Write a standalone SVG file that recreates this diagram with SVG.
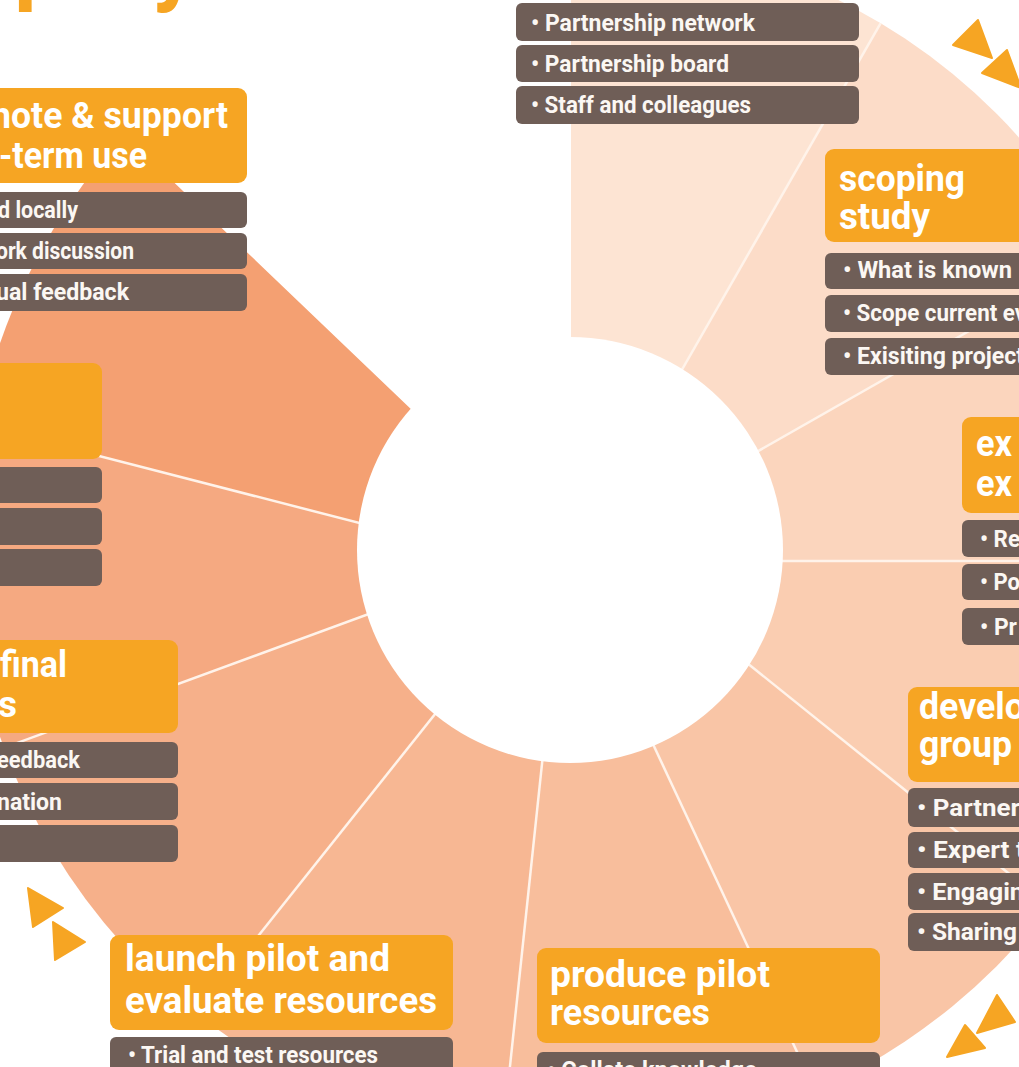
<svg xmlns="http://www.w3.org/2000/svg" width="1019" height="1067" viewBox="0 0 1019 1067">
<style>
.box{fill:#f6a523}
.item{fill:#6f5e57}
.t{font-family:Roboto,"Open Sans","Liberation Sans",sans-serif;font-weight:700;font-size:37px;fill:#ffffff}
.i{font-family:Roboto,"Liberation Sans",sans-serif;font-weight:700;font-size:23px;fill:#fbf7f3}
.big{font-family:Roboto,"Liberation Sans",sans-serif;font-weight:700;font-size:90px;fill:#f6a523}
.div{stroke:#fff3ea;stroke-width:2.5;fill:none}
.arrow{fill:#f6a523;stroke:#f6a523;stroke-width:2;stroke-linejoin:round}
</style>
<defs>
<clipPath id="outer"><circle cx="570" cy="540" r="603"/></clipPath>
</defs>
<rect x="0" y="0" width="1019" height="1067" fill="#ffffff"/>

<g id="title-fragment">
<text class="big" x="14" y="-6">p</text>
<text class="big" x="152" y="-6">y</text>
</g>

<g id="wheel" clip-path="url(#outer)">
<polygon fill="#fde4d3" points="570,550 571,450 571,-500 1113,-382 621,476"/>
<polygon fill="#fcdcc8" points="570,550 621,476 1113,-382 1375,100 637,520"/>
<polygon fill="#fbd5bd" points="570,550 637,520 1375,100 1450,561 670,561"/>
<polygon fill="#facdb1" points="570,550 670,561 1450,561 1364,1159 660,593"/>
<polygon fill="#f9c5a6" points="570,550 660,593 1364,1159 981,1445 608,648"/>
<polygon fill="#f8be9c" points="570,550 608,648 981,1445 452,1614 555,641"/>
<polygon fill="#f7b793" points="570,550 555,641 452,1614 -162,1463 518,610"/>
<polygon fill="#f6b08a" points="570,550 518,610 -162,1463 -468,921 513,561"/>
<polygon fill="#f5a981" points="570,550 513,561 -468,921 -491,304 511,562"/>
<polygon fill="#f4a072" points="570,550 511,562 -491,304 -230,-204 506,500"/>
<g id="dividers">
<line class="div" x1="621" y1="476" x2="1113" y2="-382"/>
<line class="div" x1="637" y1="520" x2="1375" y2="100"/>
<line class="div" x1="670" y1="561" x2="1450" y2="561"/>
<line class="div" x1="660" y1="593" x2="1364" y2="1159"/>
<line class="div" x1="608" y1="648" x2="981" y2="1445"/>
<line class="div" x1="555" y1="641" x2="452" y2="1614"/>
<line class="div" x1="518" y1="610" x2="-162" y2="1463"/>
<line class="div" x1="513" y1="561" x2="-468" y2="921"/>
<line class="div" x1="511" y1="562" x2="-491" y2="304"/>
</g>
</g>
<circle id="hub" cx="570" cy="550" r="213" fill="#ffffff"/>

<g id="node-partners">
<rect class="item" x="516" y="3" width="343" height="38" rx="6"/>
<rect class="item" x="516" y="45" width="343" height="37" rx="6"/>
<rect class="item" x="516" y="86" width="343" height="38" rx="6"/>
<text class="i" x="531" y="31" textLength="224" lengthAdjust="spacingAndGlyphs">• Partnership network</text>
<text class="i" x="531" y="72" textLength="198" lengthAdjust="spacingAndGlyphs">• Partnership board</text>
<text class="i" x="531" y="113" textLength="220" lengthAdjust="spacingAndGlyphs">• Staff and colleagues</text>
</g>

<g id="node-scoping">
<rect class="box" x="825" y="149" width="210" height="93" rx="9"/>
<text class="t" x="839" y="191" textLength="126" lengthAdjust="spacingAndGlyphs">scoping</text>
<text class="t" x="839" y="229" textLength="91" lengthAdjust="spacingAndGlyphs">study</text>
<rect class="item" x="825" y="253" width="210" height="36" rx="6"/>
<rect class="item" x="825" y="295" width="210" height="37" rx="6"/>
<rect class="item" x="825" y="338" width="210" height="37" rx="6"/>
<text class="i" x="843" y="278" textLength="169" lengthAdjust="spacingAndGlyphs">• What is known</text>
<text class="i" x="843" y="321" textLength="183" lengthAdjust="spacingAndGlyphs">• Scope current ev</text>
<text class="i" x="843" y="364" textLength="181" lengthAdjust="spacingAndGlyphs">• Exisiting project</text>
</g>

<g id="node-explore">
<rect class="box" x="962" y="417" width="70" height="96" rx="9"/>
<text class="t" x="976" y="456" textLength="36" lengthAdjust="spacingAndGlyphs">ex</text>
<text class="t" x="976" y="496" textLength="36" lengthAdjust="spacingAndGlyphs">ex</text>
<rect class="item" x="962" y="520" width="70" height="37" rx="6"/>
<rect class="item" x="962" y="564" width="70" height="36" rx="6"/>
<rect class="item" x="962" y="608" width="70" height="37" rx="6"/>
<text class="i" x="980" y="547" textLength="40" lengthAdjust="spacingAndGlyphs">• Re</text>
<text class="i" x="980" y="590" textLength="40" lengthAdjust="spacingAndGlyphs">• Po</text>
<text class="i" x="980" y="635" textLength="37" lengthAdjust="spacingAndGlyphs">• Pr</text>
</g>

<g id="node-develop">
<rect class="box" x="908" y="687" width="120" height="95" rx="9"/>
<text class="t" x="919" y="719" textLength="106" lengthAdjust="spacingAndGlyphs">develo</text>
<text class="t" x="919" y="757" textLength="93" lengthAdjust="spacingAndGlyphs">group</text>
<rect class="item" x="908" y="788" width="120" height="39" rx="6"/>
<rect class="item" x="908" y="832" width="120" height="36" rx="6"/>
<rect class="item" x="908" y="873" width="120" height="37" rx="6"/>
<rect class="item" x="908" y="913" width="120" height="38" rx="6"/>
<text class="i" x="917" y="816" textLength="103" lengthAdjust="spacingAndGlyphs">• Partner</text>
<text class="i" x="917" y="858" textLength="108" lengthAdjust="spacingAndGlyphs">• Expert t</text>
<text class="i" x="917" y="900" textLength="107" lengthAdjust="spacingAndGlyphs">• Engagin</text>
<text class="i" x="917" y="940" textLength="100" lengthAdjust="spacingAndGlyphs">• Sharing</text>
</g>

<g id="node-produce">
<rect class="box" x="537" y="948" width="343" height="95" rx="9"/>
<text class="t" x="550" y="987" textLength="220" lengthAdjust="spacingAndGlyphs">produce pilot</text>
<text class="t" x="550" y="1025" textLength="160" lengthAdjust="spacingAndGlyphs">resources</text>
<rect class="item" x="537" y="1052" width="343" height="40" rx="6"/>
<text class="i" x="547" y="1078" textLength="210" lengthAdjust="spacingAndGlyphs">• Collate knowledge</text>
</g>

<g id="node-launch">
<rect class="box" x="110" y="935" width="343" height="95" rx="9"/>
<text class="t" x="125" y="971" textLength="265" lengthAdjust="spacingAndGlyphs">launch pilot and</text>
<text class="t" x="125" y="1013" textLength="312" lengthAdjust="spacingAndGlyphs">evaluate resources</text>
<rect class="item" x="110" y="1037" width="343" height="40" rx="6"/>
<text class="i" x="128" y="1063" textLength="250" lengthAdjust="spacingAndGlyphs">• Trial and test resources</text>
</g>

<g id="node-final">
<rect class="box" x="-10" y="640" width="188" height="93" rx="9"/>
<text class="t" x="0" y="677" textLength="67" lengthAdjust="spacingAndGlyphs">final</text>
<text class="t" x="-2" y="717" textLength="19" lengthAdjust="spacingAndGlyphs">s</text>
<rect class="item" x="-10" y="742" width="188" height="36" rx="6"/>
<rect class="item" x="-10" y="783" width="188" height="37" rx="6"/>
<rect class="item" x="-10" y="825" width="188" height="37" rx="6"/>
<text class="i" x="-3" y="768" textLength="83" lengthAdjust="spacingAndGlyphs">eedback</text>
<text class="i" x="-3" y="810" textLength="65" lengthAdjust="spacingAndGlyphs">nation</text>
</g>

<g id="node-left">
<rect class="box" x="-10" y="363" width="112" height="96" rx="9"/>
<rect class="item" x="-10" y="467" width="112" height="36" rx="6"/>
<rect class="item" x="-10" y="508" width="112" height="37" rx="6"/>
<rect class="item" x="-10" y="549" width="112" height="37" rx="6"/>
</g>

<g id="node-promote">
<rect class="box" x="-10" y="88" width="257" height="95" rx="9"/>
<text class="t" x="-9" y="128" textLength="237" lengthAdjust="spacingAndGlyphs">note &amp; support</text>
<text class="t" x="-1" y="168" textLength="148" lengthAdjust="spacingAndGlyphs">-term use</text>
<rect class="item" x="-10" y="192" width="257" height="36" rx="6"/>
<rect class="item" x="-10" y="233" width="257" height="36" rx="6"/>
<rect class="item" x="-10" y="274" width="257" height="37" rx="6"/>
<text class="i" x="-2" y="218" textLength="80" lengthAdjust="spacingAndGlyphs">d locally</text>
<text class="i" x="-4" y="259" textLength="138" lengthAdjust="spacingAndGlyphs">ork discussion</text>
<text class="i" x="-4" y="300" textLength="133" lengthAdjust="spacingAndGlyphs">ual feedback</text>
</g>

<g id="connectors">
<polygon class="arrow" points="953,45 978,20 992,58"/>
<polygon class="arrow" points="982,73 1007,50 1021,88"/>
<polygon class="arrow" points="997,995 1015,1022 977,1033"/>
<polygon class="arrow" points="965,1025 985,1048 947,1057"/>
<polygon class="arrow" points="28,888 63,908 33,927"/>
<polygon class="arrow" points="53,922 85,942 55,960"/>
</g>
</svg>
